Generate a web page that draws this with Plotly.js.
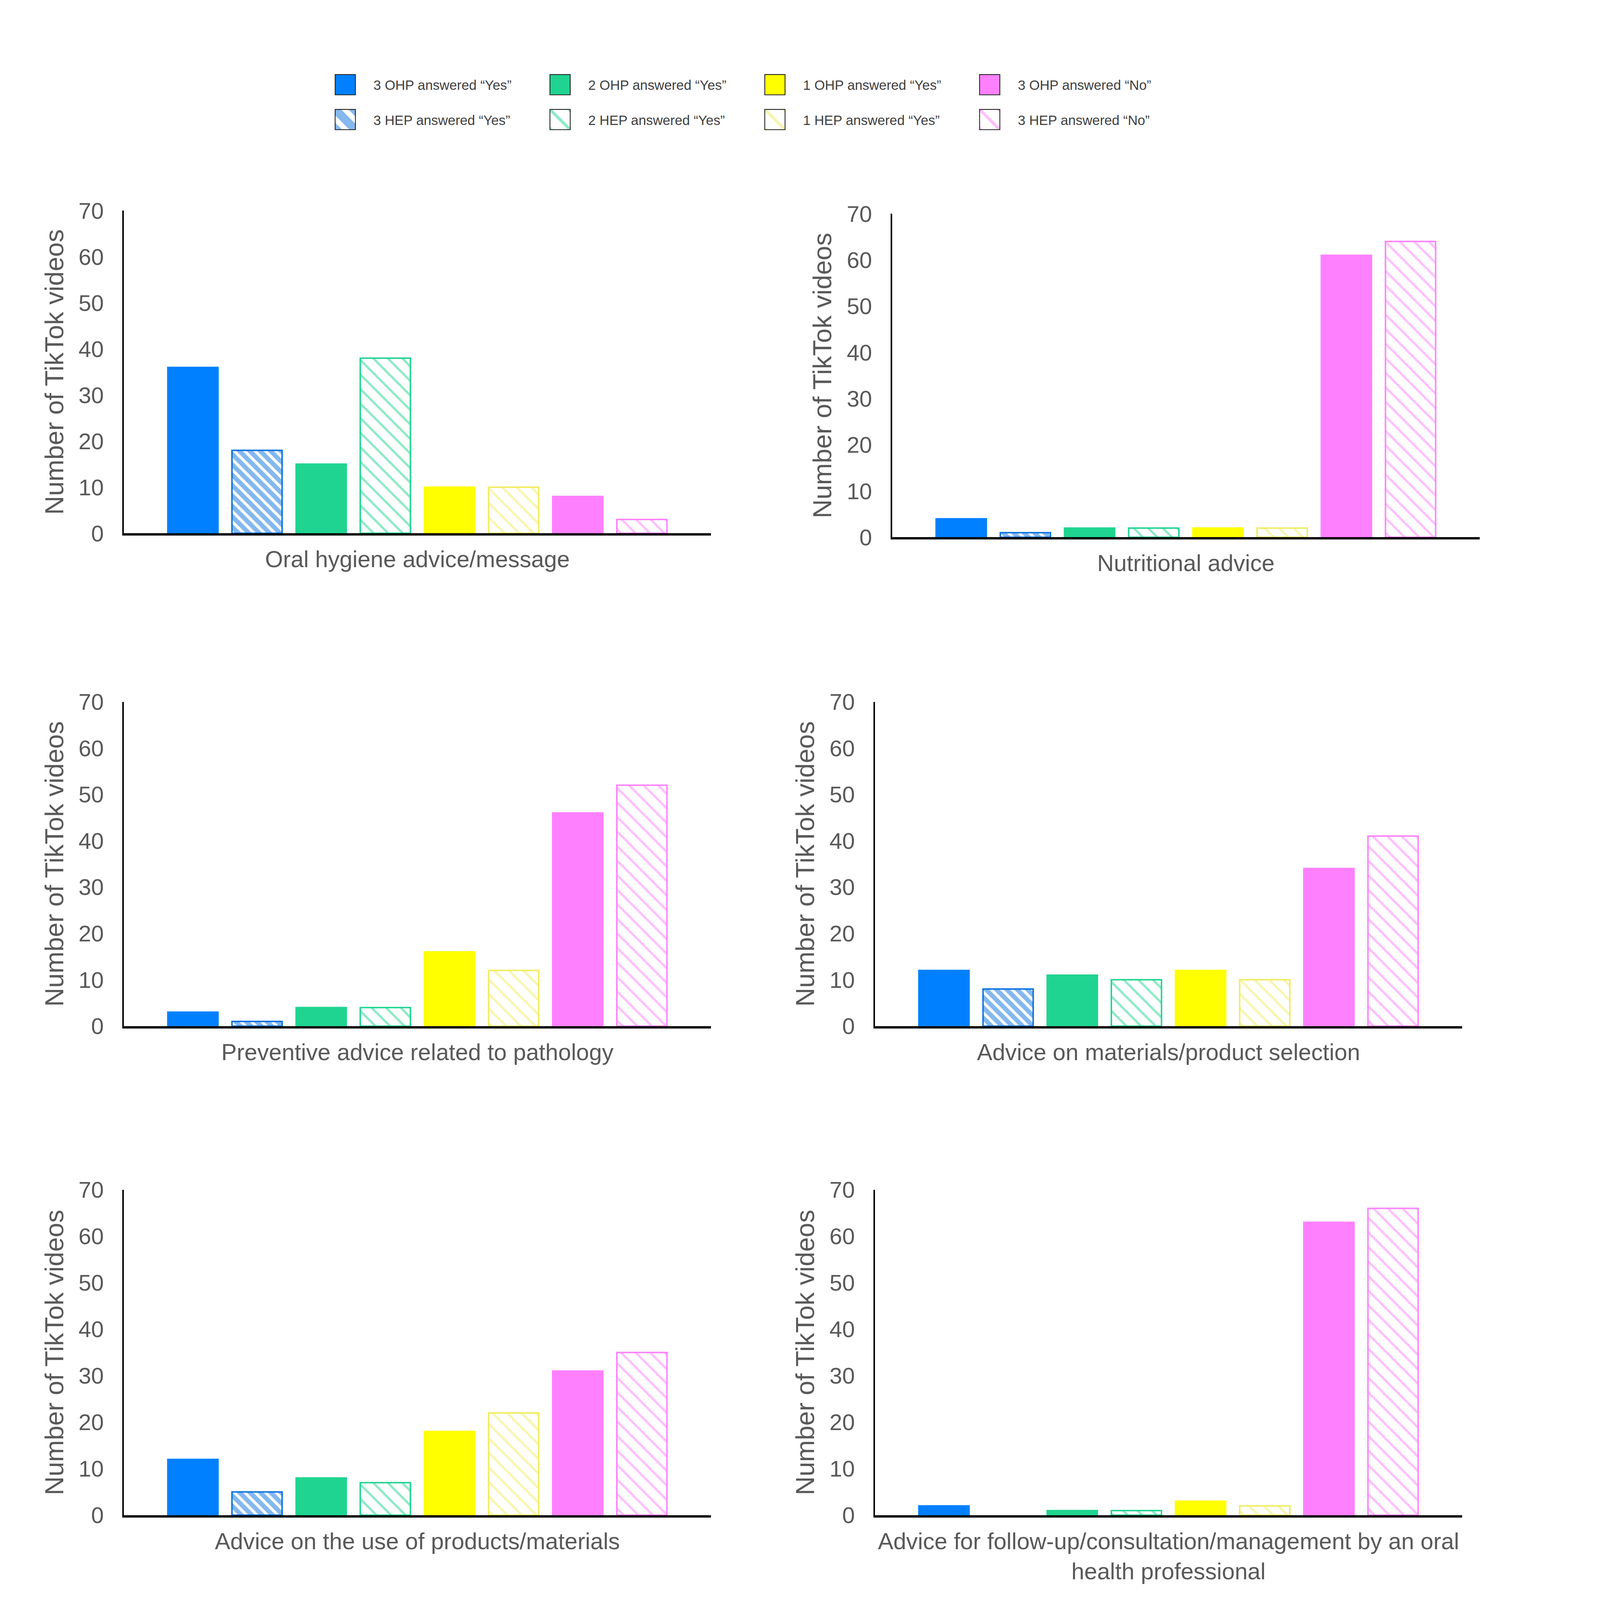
<!DOCTYPE html>
<html>
<head>
<meta charset="utf-8">
<script src="https://cdn.plot.ly/plotly-3.0.1.min.js"></script>
<style>
  html, body { margin: 0; padding: 0; background: #fff; overflow: hidden; }
</style>
</head>
<body>
<div id="chart"></div>
<script>
// one category per panel
const categories = [
  "Oral hygiene advice/message",
  "Nutritional advice",
  "Preventive advice related to pathology",
  "Advice on materials/product selection",
  "Advice on the use of products/materials",
  "Advice for follow-up/consultation/management by an oral<br>health professional"
];

// number of TikTok videos, one value per panel (same order as categories)
const ohp3Yes = [36, 4, 3, 12, 12, 2];
const hep3Yes = [18, 1, 1, 8, 5, 0];
const ohp2Yes = [15, 2, 4, 11, 8, 1];
const hep2Yes = [38, 2, 4, 10, 7, 1];
const ohp1Yes = [10, 2, 16, 12, 18, 3];
const hep1Yes = [10, 2, 12, 10, 22, 2];
const ohp3No = [8, 61, 46, 34, 31, 63];
const hep3No = [3, 64, 52, 41, 35, 66];

const seriesNames = [
  "3 OHP answered \u201cYes\u201d", "3 HEP answered \u201cYes\u201d",
  "2 OHP answered \u201cYes\u201d", "2 HEP answered \u201cYes\u201d",
  "1 OHP answered \u201cYes\u201d", "1 HEP answered \u201cYes\u201d",
  "3 OHP answered \u201cNo\u201d", "3 HEP answered \u201cNo\u201d"
];
const seriesValues = [ohp3Yes, hep3Yes, ohp2Yes, hep2Yes, ohp1Yes, hep1Yes, ohp3No, hep3No];

const colors = ['#0080FF', '#0A72E0', '#1FD490', '#1FD490', '#FFFF00', '#F0EC60', '#FF80FF', '#FF80FF'];

// panel placement (paper fractions)
const xDomains = [
  [0.0791, 0.4541], [0.5698, 0.9451],
  [0.0791, 0.4541], [0.5588, 0.9339],
  [0.0791, 0.4541], [0.5588, 0.9339]
];
const yDomains = [
  [0.6667, 0.8683], [0.6642, 0.8664],
  [0.3587, 0.5614], [0.3587, 0.5614],
  [0.0530, 0.2564], [0.0530, 0.2564]
];

// the figure is designed at 4263 x 4357; scale to whatever the viewport really is
const k = Math.min(window.innerWidth / 4263, window.innerHeight / 4357);
const W = Math.round(4263 * k);
const H = Math.round(4357 * k);

const font = 'Liberation Sans, Arial, sans-serif';
const textGrey = '#595959';

let traces = [];
categories.forEach(function (cat, i) {
  const suffix = i === 0 ? '' : String(i + 1);
  seriesValues.forEach(function (vals, s) {
    const hatched = s % 2 === 1;
    const marker = {
      color: hatched ? '#ffffff' : colors[s],
      // no outline for an empty bar
      line: { color: colors[s], width: vals[i] === 0 ? 0 : 4 * k }
    };
    if (hatched) {
      marker.pattern = {
        shape: '\\',
        fgcolor: colors[s],
        fillmode: 'overlay',
        size: (s === 1 ? 20 : 28) * k,
        solidity: s === 1 ? 0.62 : 0.22
      };
    }
    traces.push({
      type: 'bar',
      x: [cat],
      y: [vals[i]],
      name: seriesNames[s],
      xaxis: 'x' + suffix,
      yaxis: 'y' + suffix,
      legend: hatched ? 'legend2' : 'legend',
      showlegend: i === 0,
      marker: marker,
      hoverinfo: 'y'
    });
  });
});

const legendBase = {
  orientation: 'h',
  xanchor: 'left',
  yanchor: 'middle',
  x: 0.2135,
  font: { family: font, size: 37 * k, color: '#404040' },
  itemwidth: 96 * k,
  entrywidth: 473 * k,
  traceorder: 'normal',
  bgcolor: 'rgba(0,0,0,0)',
  itemclick: false,
  itemdoubleclick: false
};

let layout = {
  width: W,
  height: H,
  margin: { l: 0, r: 0, t: 0, b: 0 },
  paper_bgcolor: '#ffffff',
  plot_bgcolor: '#ffffff',
  barmode: 'group',
  bargap: 0.126,
  bargroupgap: 0.218,
  font: { family: font, color: textGrey },
  legend: Object.assign({}, legendBase, { y: 1 - 231 / 4357 }),
  legend2: Object.assign({}, legendBase, { y: 1 - 326 / 4357 })
};

categories.forEach(function (cat, i) {
  const suffix = i === 0 ? '' : String(i + 1);
  layout['xaxis' + suffix] = {
    domain: xDomains[i],
    anchor: 'y' + suffix,
    type: 'category',
    showline: true,
    linecolor: '#000000',
    linewidth: 6 * k,
    showgrid: false,
    zeroline: false,
    ticks: '',
    ticklabelstandoff: Math.round(10.5 * k), // integer only
    tickfont: { family: font, size: 63 * k, color: textGrey },
    automargin: false,
    fixedrange: true
  };
  layout['yaxis' + suffix] = {
    domain: yDomains[i],
    anchor: 'x' + suffix,
    range: [0, 70],
    dtick: 10,
    showline: true,
    linecolor: '#000000',
    linewidth: 4 * k,
    showgrid: false,
    zeroline: false,
    // invisible ticks, used only to push the labels off the axis line
    ticks: 'outside',
    ticklen: 38 * k,
    tickcolor: 'rgba(0,0,0,0)',
    tickfont: { family: font, size: 62 * k, color: textGrey },
    title: {
      text: 'Number of TikTok videos',
      font: { family: font, size: 71 * k, color: textGrey },
      standoff: 19 * k
    },
    automargin: false,
    fixedrange: true
  };
});

Plotly.newPlot('chart', traces, layout, { displayModeBar: false, responsive: false }).then(function (gd) {
  // enlarge the legend swatches to the size used in the figure
  gd.querySelectorAll('.legendpoints path').forEach(function (p) {
    p.setAttribute('transform', 'translate(' + (30 * k) + ',0) scale(' + (4.6 * k) + ')');
    p.style.stroke = '#222222';
    p.style.strokeWidth = '0.5px';
  });
});
</script>
</body>
</html>
